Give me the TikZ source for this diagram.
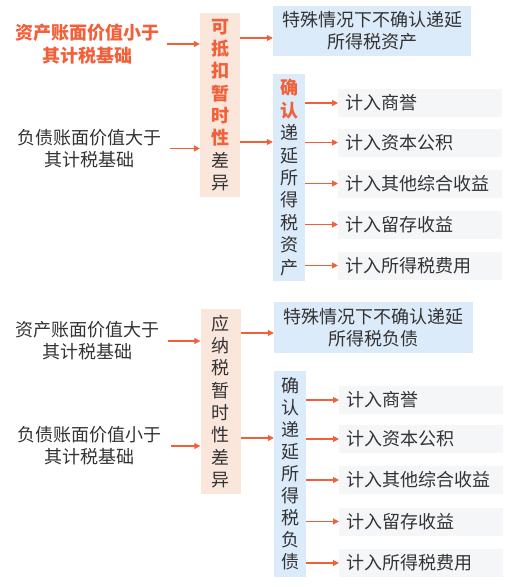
\documentclass[tikz,border=0pt]{standalone}
\usepackage{fontspec}
\usepackage{xcolor}
\usepackage{tikz}
\usetikzlibrary{arrows.meta}
\newfontfamily\cjk{Noto Sans CJK SC}
\definecolor{hot}{HTML}{F2603A}
\definecolor{peach}{HTML}{FBE6DC}
\definecolor{skyfill}{HTML}{DCEBFA}
\definecolor{greyfill}{HTML}{F5F6F8}
\definecolor{ink}{HTML}{333333}
\newcommand{\hc}[1]{{\color{hot}\bfseries #1}}

\begin{document}
\begin{tikzpicture}[x=1pt,y=-1pt,
        txt/.style={font=\cjk\fontsize{18}{22.3}\selectfont, text=ink, align=center, inner sep=0pt},
        diffbox/.style={txt, fill=peach, minimum width=40pt},
        skybox/.style={txt, fill=skyfill},
        gbox/.style={txt, fill=greyfill, minimum height=28pt, text width=150pt, inner xsep=7pt, align=left, anchor=west},
        arr/.style={hot, line width=1.1pt, -{Triangle[length=6pt,width=6pt]}}]
        \useasboundingbox (0,0) rectangle (508,587);

        \node[txt] (sA) at (88,44) {\hc{资产账面价值小于}\\\hc{其计税基础}};
        \node[txt] (sB) at (89.5,148.5) {负债账面价值大于\\其计税基础};
        \node[diffbox, minimum height=184pt] (pA) at (220,105)
            {\hc{可}\\\hc{抵}\\\hc{扣}\\\hc{暂}\\\hc{时}\\\hc{性}\\差\\异};
        \node[skybox, minimum width=198pt, minimum height=50pt] (pB) at (372,31)
            {特殊情况下不确认递延\\所得税资产};
        \node[skybox, minimum width=32pt, minimum height=207pt, font=\cjk\fontsize{18}{22.4}\selectfont] (pC) at (289,177.5)
            {\hc{确}\\\hc{认}\\递\\延\\所\\得\\税\\资\\产};
        \node[gbox] (g1) at (338,103) {计入商誉};
        \node[gbox] (g2) at (338,142.5) {计入资本公积};
        \node[gbox] (g3) at (338,183.5) {计入其他综合收益};
        \node[gbox] (g4) at (338,224.5) {计入留存收益};
        \node[gbox] (g5) at (338,265.5) {计入所得税费用};

        \draw[arr, shorten <=7pt] (sA.east) -- (sA.east -| pA.west);
        \draw[arr, shorten <=8pt] (sB.east) -- (sB.east -| pA.west);
        \path ([yshift=-7pt]pB.west) coordinate (bIn);
        \path ([yshift=35.5pt]pC.west) coordinate (cIn);
        \draw[arr] (pA.east |- bIn) -- (bIn);
        \draw[arr] (pA.east |- cIn) -- (cIn);
        \foreach \g in {g1,g2,g3,g4,g5}
            \draw[arr] (\g.west -| pC.east) -- (\g.west);

        \node[txt] (sC) at (88,341) {资产账面价值大于\\其计税基础};
        \node[txt] (sD) at (89.5,446) {负债账面价值小于\\其计税基础};
        \node[diffbox, minimum height=185pt] (pD) at (220.5,401.5)
            {应\\纳\\税\\暂\\时\\性\\差\\异};
        \node[skybox, minimum width=199pt, minimum height=51pt] (pE) at (373.5,327.5)
            {特殊情况下不确认递延\\所得税负债};
        \node[skybox, minimum width=32pt, minimum height=206pt, font=\cjk\fontsize{18}{22}\selectfont] (pF) at (290,474)
            {确\\认\\递\\延\\所\\得\\税\\负\\债};
        \node[gbox] (h1) at (339,400) {计入商誉};
        \node[gbox] (h2) at (339,439) {计入资本公积};
        \node[gbox] (h3) at (339,480) {计入其他综合收益};
        \node[gbox] (h4) at (339,521.5) {计入留存收益};
        \node[gbox] (h5) at (339,563) {计入所得税费用};

        \draw[arr, shorten <=8pt] (sC.east) -- (sC.east -| pD.west);
        \draw[arr, shorten <=9pt] (sD.east) -- (sD.east -| pD.west);
        \path ([yshift=-5.5pt]pE.west) coordinate (eIn);
        \path ([yshift=36pt]pF.west) coordinate (fIn);
        \draw[arr] (pD.east |- eIn) -- (eIn);
        \draw[arr] (pD.east |- fIn) -- (fIn);
        \foreach \h in {h1,h2,h3,h4,h5}
            \draw[arr] (\h.west -| pF.east) -- (\h.west);
    \end{tikzpicture}
\end{document}
